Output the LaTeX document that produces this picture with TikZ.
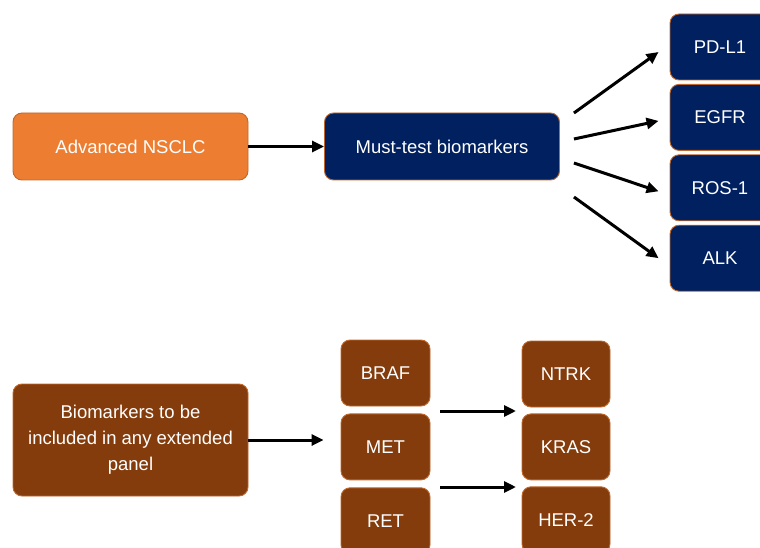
\documentclass[tikz,border=0pt]{standalone}
\usepackage{fontspec}
\setmainfont{Liberation Sans}
\usetikzlibrary{positioning,arrows.meta}
\definecolor{nsclcorange}{HTML}{ED7D31}
\definecolor{mustnavy}{HTML}{002060}
\definecolor{extbrown}{HTML}{843C0C}
\definecolor{boxline}{HTML}{C0682C}

\begin{document}
\begin{tikzpicture}[x=1pt,y=-1pt]
  \tikzstyle{box} = [rectangle, draw=boxline, line width=0.9pt, rounded corners=9pt, inner sep=0pt, align=center, text=white, font=\fontsize{18.5}{26}\selectfont]
  \tikzstyle{widebox} = [box, minimum width=235pt, minimum height=67pt]
  \tikzstyle{genebox} = [box, minimum width=89pt, minimum height=66pt]
  \tikzstyle{arr} = [-{Triangle[length=12pt,width=11pt]}, line width=3pt]

  \useasboundingbox (0,0) rectangle (760,548);

  % must-test row
  \node (nsclc) [widebox, fill=nsclcorange] at (130.5,146.5) {Advanced NSCLC};
  \node (must) [widebox, fill=mustnavy] at (442,146.5) {Must-test biomarkers};

  \node (pdl1) [box, fill=mustnavy, minimum width=100pt, minimum height=66pt] at (720,47) {PD-L1};
  \node (egfr) [box, fill=mustnavy, minimum width=100pt, minimum height=66pt, below=3.5pt of pdl1] {EGFR};
  \node (ros1) [box, fill=mustnavy, minimum width=100pt, minimum height=66pt, below=3.5pt of egfr] {ROS-1};
  \node (alk) [box, fill=mustnavy, minimum width=100pt, minimum height=66pt, below=3.5pt of ros1] {ALK};

  \draw[arr] (nsclc) -- (must);
  \draw[arr] ([xshift=14pt,yshift=33.5pt]must.east) -- ([xshift=-11pt,yshift=-5pt]pdl1.west);
  \draw[arr] ([xshift=14pt,yshift=7.5pt]must.east) -- ([xshift=-11pt,yshift=-3.5pt]egfr.west);
  \draw[arr] ([xshift=14pt,yshift=-16.5pt]must.east) -- ([xshift=-11pt,yshift=-3.5pt]ros1.west);
  \draw[arr] ([xshift=14pt,yshift=-50.5pt]must.east) -- ([xshift=-11pt]alk.west);

  % extended panel row
  \node (ext) [box, fill=extbrown, minimum width=235pt, minimum height=112pt] at (130.5,440) {Biomarkers to be\\ included in any extended\\ panel};

  \node (braf) [genebox, fill=extbrown] at (385.5,373) {BRAF};
  \node (met) [genebox, fill=extbrown, below=7pt of braf] {MET};
  \node (ret) [genebox, fill=extbrown, below=7pt of met] {RET};

  \node (ntrk) [genebox, fill=extbrown, minimum width=88pt] at (566,374) {NTRK};
  \node (kras) [genebox, fill=extbrown, minimum width=88pt, below=6pt of ntrk] {KRAS};
  \node (her2) [genebox, fill=extbrown, minimum width=88pt, below=6pt of kras] {HER-2};

  \coordinate (g1) at (440,411);
  \coordinate (g2) at (516,411);
  \coordinate (g3) at (440,487);
  \coordinate (g4) at (516,487);

  \draw[arr, shorten >=17pt] (ext) -- (ext -| braf.west);
  \draw[arr] (g1) -- (g2);
  \draw[arr] (g3) -- (g4);
\end{tikzpicture}
\end{document}
